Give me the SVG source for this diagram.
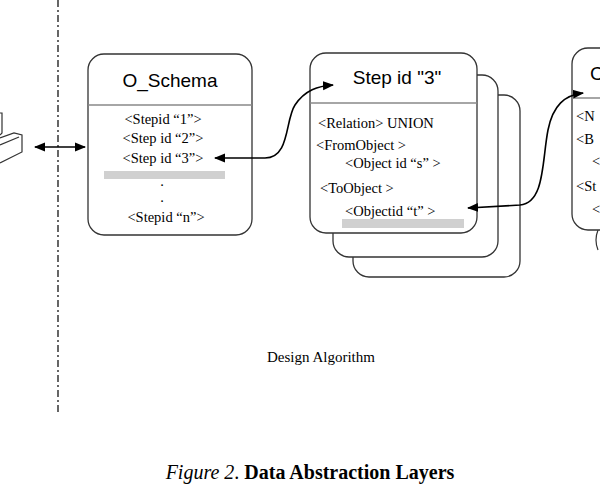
<svg xmlns="http://www.w3.org/2000/svg" width="600" height="500" viewBox="0 0 600 500">
<defs>
<style>
.box{fill:#fff;stroke:#333;stroke-width:1.3}
.div{stroke:#888;stroke-width:1.5}
.t{font-family:"Liberation Serif",serif;font-size:14.5px;fill:#000}
.h{font-family:"Liberation Sans",sans-serif;font-size:19px;fill:#000}
.c{fill:none;stroke:#000;stroke-width:1.6}
.bar{fill:#d0d0d0}
</style>
<marker id="a" viewBox="0 0 10 10" refX="9" refY="5" markerWidth="7" markerHeight="7" orient="auto-start-reverse"><path d="M0,1 L10,5 L0,9 Z" fill="#000"/></marker>
</defs>
<rect width="600" height="500" fill="#fff"/>
<line x1="58" y1="0" x2="58" y2="415" stroke="#000" stroke-width="1.2" stroke-dasharray="7,3,2,3"/>
<g id="icon" fill="#fff" stroke="#333" stroke-width="1.2">
<path d="M0,113 L2,113 L2,133 L0,135"/>
<path d="M0,138 L14,133 L22,135 L22,152 L0,163"/>
<path d="M0,145 L19,137"/>
</g>
<g id="o_schema">
<rect class="box" x="88" y="54" width="164" height="181" rx="16"/>
<line class="div" x1="88" y1="105" x2="252" y2="105"/>
<text class="h" x="170" y="87" text-anchor="middle">O_Schema</text>
<text class="t" x="163" y="124" text-anchor="middle">&lt;Stepid “1”&gt;</text>
<text class="t" x="163" y="143" text-anchor="middle">&lt;Step id “2”&gt;</text>
<text class="t" x="163" y="163" text-anchor="middle">&lt;Step id “3”&gt;</text>
<rect class="bar" x="104" y="171" width="121" height="8"/>
<text class="t" x="162" y="186" text-anchor="middle">.</text>
<text class="t" x="162" y="202" text-anchor="middle">.</text>
<text class="t" x="166" y="222" text-anchor="middle">&lt;Stepid “n”&gt;</text>
</g>
<g id="step3">
<rect class="box" x="353" y="95" width="167" height="182" rx="16"/>
<rect class="box" x="333" y="75" width="165" height="182" rx="16"/>
<rect class="box" x="310" y="53" width="167" height="180" rx="16"/>
<line class="div" x1="310" y1="103" x2="477" y2="103"/>
<text class="h" x="397" y="84" text-anchor="middle">Step id "3"</text>
<text class="t" x="318" y="128">&lt;Relation&gt; UNION</text>
<text class="t" x="316" y="150">&lt;FromObject &gt;</text>
<text class="t" x="345" y="168">&lt;Object id “s” &gt;</text>
<text class="t" x="320" y="193">&lt;ToObject &gt;</text>
<text class="t" x="345" y="216">&lt;Objectid “t” &gt;</text>
<rect class="bar" x="342" y="219" width="122" height="9"/>
</g>
<g id="right">
<path d="M598,230 Q594,240 598,250" fill="none" stroke="#333" stroke-width="1.2"/>
<rect class="box" x="572" y="48" width="60" height="182" rx="16"/>
<line class="div" x1="572" y1="98" x2="600" y2="98"/>
<text class="h" x="590" y="80">C</text>
<text class="t" x="576" y="121">&lt;N</text>
<text class="t" x="576" y="144">&lt;B</text>
<text class="t" x="592" y="166">&lt;</text>
<text class="t" x="576" y="191">&lt;St</text>
<text class="t" x="592" y="214">&lt;</text>
</g>
<g id="connectors">
<line class="c" x1="35" y1="147" x2="85" y2="147" marker-start="url(#a)" marker-end="url(#a)"/>
<path class="c" d="M215,158 L265,158 C290,158 285,120 295,105 C305,90 318,86 333,85" marker-start="url(#a)" marker-end="url(#a)"/>
<path class="c" d="M468,208 L520,205 C545,203 542,160 548,130 C553,105 565,95 583,93" marker-start="url(#a)" marker-end="url(#a)"/>
</g>
<text x="267" y="362" font-family="Liberation Serif,serif" font-size="15">Design Algorithm</text>
<text x="310" y="479" text-anchor="middle" font-family="Liberation Serif,serif" font-size="20"><tspan font-style="italic">Figure 2</tspan><tspan>. </tspan><tspan font-weight="bold">Data Abstraction Layers</tspan></text>
</svg>
